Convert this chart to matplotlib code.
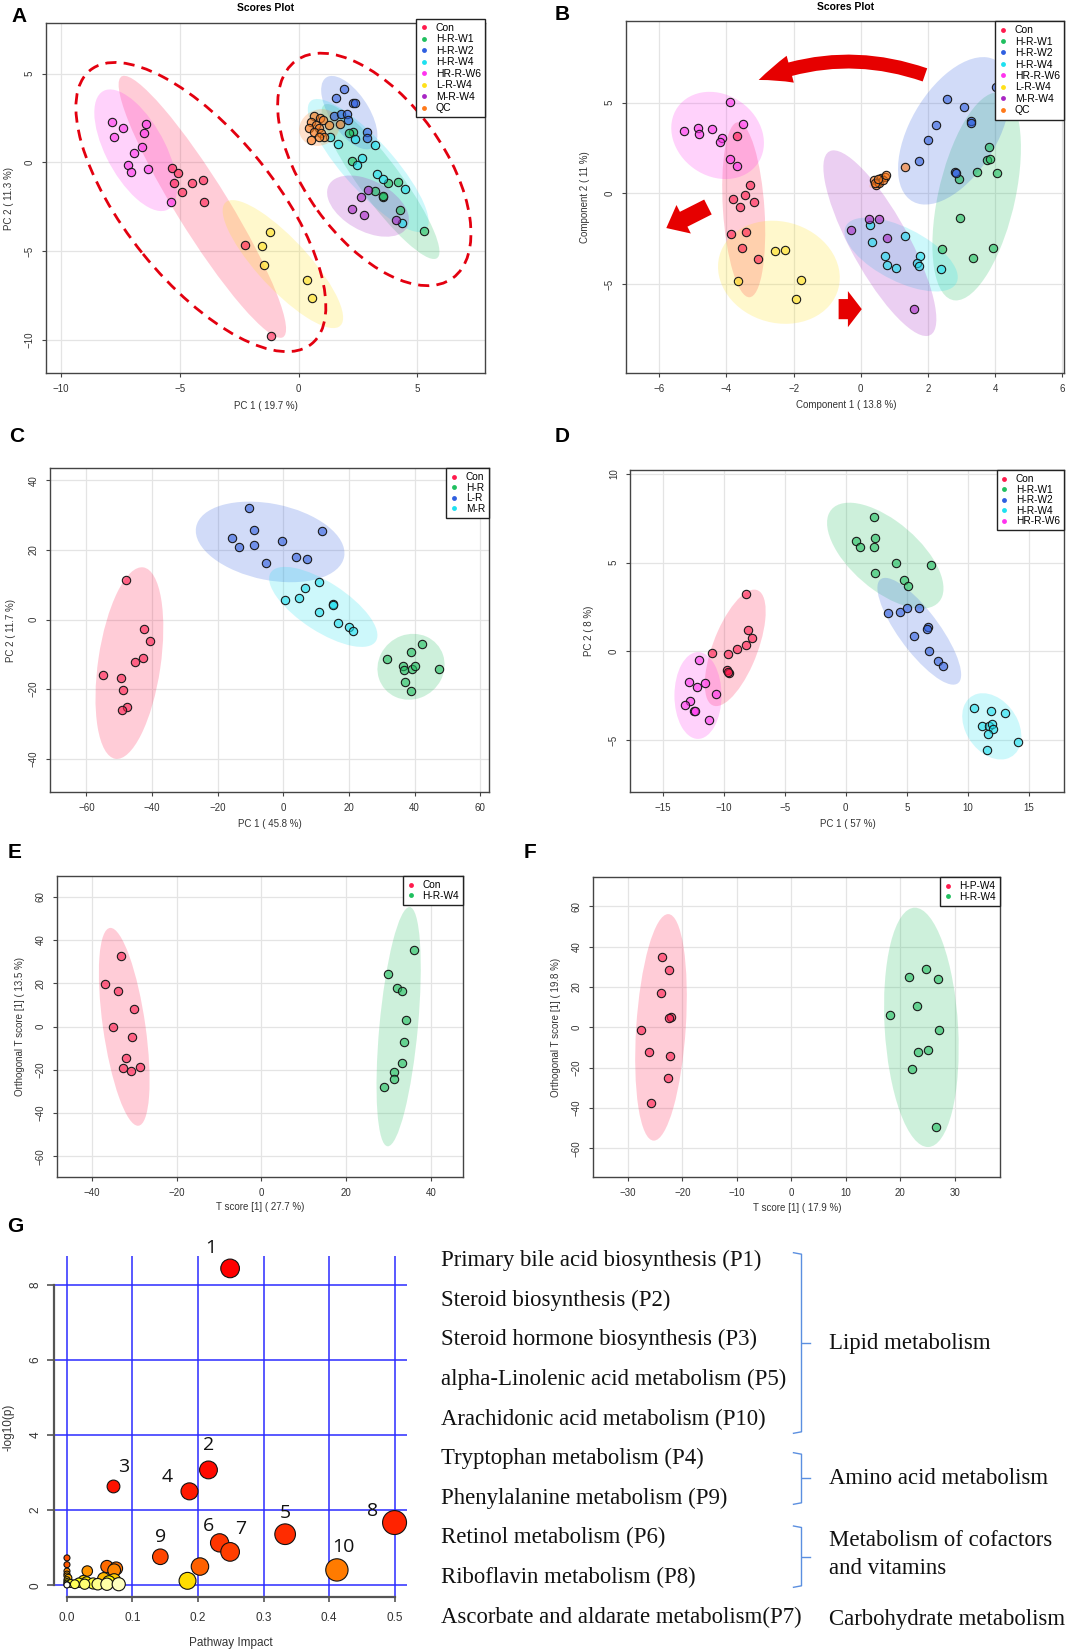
import numpy as np
import matplotlib
matplotlib.use('Agg')
import matplotlib.pyplot as plt
import matplotlib.transforms as mtransforms
from matplotlib.patches import Ellipse, FancyArrowPatch
from matplotlib.lines import Line2D
from matplotlib.colors import to_rgba, hsv_to_rgb

plt.rcParams['font.family'] = ['Liberation Sans', 'DejaVu Sans']

W, H = 1067, 1651

# ---------------- data ----------------
COL = {'red': '#ff1a4d', 'green': '#1fbf5f', 'blue': '#2f5fe0', 'cyan': '#1ee0f0',
       'magenta': '#ff33ee', 'yellow': '#ffe01a', 'purple': '#a826c4', 'orange': '#ff7a1a'}

# panel A  (PC1 / PC2)
A_NAMES = ['Con', 'H-R-W1', 'H-R-W2', 'H-R-W4', 'HR-R-W6', 'L-R-W4', 'M-R-W4', 'QC']
A_CON = [(-5.31, -0.31), (-5.06, -0.59), (-5.26, -1.17), (-4.91, -1.67), (-4.50, -1.15),
         (-4.01, -1.00), (-3.98, -2.24), (-2.24, -4.64), (-1.17, -9.79)]
A_W1 = [(2.31, 1.72), (2.14, 1.63), (2.25, 0.09), (3.75, -1.15), (4.17, -1.09),
        (3.23, -1.62), (3.54, -1.94), (3.56, -1.90), (4.28, -2.69), (5.30, -3.87)]
A_W2 = [(1.90, 4.12), (1.58, 3.63), (2.31, 3.35), (2.36, 3.35), (1.51, 2.62),
        (1.79, 2.71), (2.04, 2.71), (2.10, 2.41), (2.89, 1.72), (2.89, 1.38)]
A_W4 = [(1.34, 1.40), (1.65, 1.06), (2.39, 1.34), (3.20, 0.95), (2.66, 0.24),
        (2.45, -0.17), (3.29, -0.68), (3.54, -0.96), (4.47, -1.53), (4.35, -3.44)]
A_W6 = [(-7.87, 2.26), (-7.37, 1.91), (-7.75, 1.44), (-6.43, 2.17), (-6.49, 1.64),
        (-6.60, 0.88), (-6.92, 0.52), (-7.19, -0.17), (-7.05, -0.55), (-6.35, -0.40), (-5.38, -2.22)]
A_LW4 = [(-1.20, -3.94), (-1.55, -4.71), (-1.47, -5.76), (0.36, -6.62), (0.57, -7.64)]
A_MW4 = [(2.94, -1.56), (2.61, -1.94), (2.24, -2.61), (2.74, -2.97), (4.10, -3.25)]
A_QC = [(0.64, 2.62), (0.91, 2.51), (0.53, 2.28), (1.02, 2.41), (0.74, 2.09), (0.85, 1.91),
        (0.46, 1.91), (0.67, 1.72), (0.95, 1.63), (1.09, 1.44), (0.85, 1.44), (0.53, 1.25),
        (1.30, 2.09), (1.76, 2.15)]

# panel B  (PLS-DA components)
B_CON = [(-3.68, 3.18), (-3.29, 0.46), (-3.80, -0.29), (-3.44, -0.11), (-3.17, -0.48),
         (-3.59, -0.75), (-3.86, -2.26), (-3.42, -2.11), (-3.54, -3.01), (-3.06, -3.64)]
B_W1 = [(3.81, 2.57), (3.77, 1.82), (3.84, 1.88), (3.47, 1.18), (4.05, 1.10),
        (2.91, 0.79), (2.96, -1.36), (2.41, -3.09), (3.94, -3.00), (3.34, -3.55)]
B_W2 = [(2.56, 5.18), (3.06, 4.76), (4.02, 5.85), (2.24, 3.79), (3.29, 4.01),
        (3.29, 3.88), (1.99, 2.94), (1.73, 1.78), (2.81, 1.16), (2.83, 1.12)]
B_W4 = [(0.28, -1.76), (0.32, -2.68), (0.73, -3.44), (0.78, -3.93), (1.05, -4.10),
        (1.31, -2.35), (1.75, -3.46), (1.67, -3.82), (1.73, -3.99), (2.39, -4.19)]
B_W6 = [(-3.88, 5.02), (-5.25, 3.42), (-4.85, 3.60), (-4.81, 3.25), (-4.43, 3.53),
        (-4.14, 3.07), (-4.19, 2.81), (-3.50, 3.81), (-3.88, 1.89), (-3.70, 1.53)]
B_LW4 = [(-2.56, -3.20), (-2.26, -3.13), (-3.65, -4.82), (-1.79, -4.76), (-1.93, -5.83)]
B_MW4 = [(0.24, -1.42), (0.55, -1.42), (-0.29, -2.01), (0.77, -2.48), (1.57, -6.40)]
B_QC = [(0.40, 0.74), (0.50, 0.64), (0.61, 0.83), (0.71, 0.92), (0.45, 0.46), (0.55, 0.55),
        (0.66, 0.74), (0.76, 1.01), (0.42, 0.55), (0.52, 0.77)]
B_QC_EXTRA = [(1.33, 1.47)]

# panel C
C_NAMES = ['Con', 'H-R', 'L-R', 'M-R']
C_CON = [(-47.9, 11.3), (-42.5, -2.7), (-40.5, -6.3), (-42.9, -11.1), (-45.2, -12.1),
         (-54.9, -15.8), (-49.5, -16.8), (-49.0, -20.3), (-47.5, -25.2), (-49.1, -26.0)]
C_HR = [(31.5, -11.4), (39.0, -9.3), (42.3, -7.1), (36.4, -13.2), (36.8, -14.6),
        (39.3, -14.1), (40.2, -13.2), (47.6, -14.2), (37.2, -18.0), (39.0, -20.5)]
C_LR = [(-10.6, 32.0), (-8.9, 25.7), (-15.5, 23.5), (-13.6, 20.8), (-8.8, 21.5),
        (-0.4, 22.6), (11.8, 25.3), (4.0, 18.0), (7.3, 17.3), (-5.4, 16.1)]
C_MR = [(10.9, 10.9), (6.6, 9.1), (0.4, 5.5), (4.8, 6.1), (10.9, 2.2),
        (15.1, 4.6), (15.3, 4.3), (16.7, -1.0), (19.9, -2.1), (21.3, -3.3)]

# panel D
D_NAMES = ['Con', 'H-R-W1', 'H-R-W2', 'H-R-W4', 'HR-R-W6']
D_CON = [(-8.19, 3.23), (-8.02, 1.22), (-7.73, 0.74), (-8.22, 0.34), (-8.91, 0.14),
         (-9.68, -0.14), (-10.95, -0.09), (-9.74, -1.06), (-9.57, -1.21), (-9.66, -1.14)]
D_W1 = [(2.30, 7.58), (0.80, 6.21), (1.15, 5.87), (2.39, 6.40), (2.33, 5.89),
        (4.11, 4.96), (7.01, 4.88), (2.41, 4.39), (4.80, 4.01), (5.09, 3.66)]
D_W2 = [(3.48, 2.15), (4.48, 2.22), (5.00, 2.42), (5.98, 2.42), (6.72, 1.36),
        (6.64, 1.26), (5.63, 0.87), (6.84, 0.01), (7.53, -0.54), (7.99, -0.82)]
D_W4 = [(10.49, -3.18), (11.93, -3.35), (13.02, -3.48), (11.18, -4.17), (11.72, -4.17),
        (12.01, -4.06), (12.10, -4.36), (11.67, -4.66), (14.11, -5.11), (11.55, -5.56)]
D_W6 = [(-12.04, -0.50), (-12.87, -1.74), (-12.18, -2.00), (-11.55, -1.78), (-10.66, -2.41),
        (-12.76, -2.80), (-13.22, -2.99), (-12.41, -3.33), (-12.33, -3.35), (-11.21, -3.86)]

# panel E (OPLS-DA)
E_NAMES = ['Con', 'H-R-W4']
E_CON = [(-33.1, 32.5), (-36.9, 19.7), (-33.8, 16.4), (-30.2, 7.9), (-35.1, -0.3),
         (-30.7, -4.8), (-32.0, -14.7), (-32.8, -19.0), (-30.9, -20.4), (-28.7, -18.8)]
E_W4 = [(36.1, 35.5), (30.0, 24.1), (32.0, 17.6), (33.3, 16.5), (34.2, 3.1),
        (33.7, -7.1), (33.3, -17.1), (31.2, -21.0), (31.3, -24.2), (28.9, -28.2)]

# panel F (OPLS-DA)
F_NAMES = ['H-P-W4', 'H-R-W4']
F_HP = [(-23.7, 34.9), (-22.5, 28.6), (-24.0, 16.9), (-22.0, 4.9), (-22.5, 4.4),
        (-27.6, -1.4), (-26.1, -12.1), (-22.3, -14.1), (-22.7, -25.0), (-25.8, -37.4)]
F_HR = [(24.8, 28.8), (21.6, 25.0), (26.9, 23.7), (23.1, 10.5), (18.2, 5.9),
        (27.1, -1.1), (25.0, -11.1), (23.3, -12.1), (22.1, -20.6), (26.6, -49.3)]

# panel G (pathway analysis)
G_IMPACT = [0.249, 0.216, 0.071, 0.187, 0.333, 0.233, 0.249, 0.500, 0.1425, 0.412, 0.203, 0.184,
            0.000, 0.000, 0.000, 0.000, 0.000, 0.002, 0.000, 0.000, 0.000, 0.000, 0.000,
            0.031, 0.061, 0.075, 0.072, 0.056, 0.072, 0.025, 0.030, 0.064,
            0.012, 0.027, 0.047, 0.061, 0.079, 0.006, 0.018, 0.040]
G_LOGP = [8.43, 3.07, 2.63, 2.50, 1.36, 1.13, 0.89, 1.67, 0.76, 0.41, 0.50, 0.12,
          0.73, 0.55, 0.38, 0.30, 0.25, 0.20, 0.15, 0.10, 0.06, 0.02, 0.01,
          0.38, 0.50, 0.45, 0.40, 0.18, 0.14, 0.13, 0.09, 0.09,
          0.03, 0.03, 0.03, 0.03, 0.03, 0.05, 0.07, 0.05]
G_LABELS = ['1', '2', '3', '4', '5', '6', '7', '8', '9', '10']
G_PATHWAYS = ['Primary bile acid biosynthesis (P1)', 'Steroid biosynthesis (P2)',
              'Steroid hormone biosynthesis (P3)', 'alpha-Linolenic acid metabolism (P5)',
              'Arachidonic acid metabolism (P10)', 'Tryptophan metabolism (P4)',
              'Phenylalanine metabolism (P9)', 'Retinol metabolism (P6)',
              'Riboflavin metabolism (P8)', 'Ascorbate and aldarate metabolism(P7)']

fig = plt.figure(figsize=(W / 100, H / 100), dpi=100)
ov = fig.add_axes([0, 0, 1, 1])
ov.set_xlim(0, W)
ov.set_ylim(H, 0)
ov.axis('off')


def px_axes(l, t, r, b):
    return fig.add_axes([l / W, 1 - b / H, (r - l) / W, (b - t) / H])


def ptext(x, y, s, **kw):
    kw.setdefault('ha', 'center')
    kw.setdefault('va', 'center')
    ov.text(x, y, s, **kw)


def style_scores(ax, xlim, ylim, xticks, yticks):
    ax.set_xlim(*xlim)
    ax.set_ylim(*ylim)
    ax.set_xticks(xticks)
    ax.set_yticks(yticks)
    ax.grid(True, color='#e4e4e4', lw=0.9)
    ax.set_axisbelow(True)
    for s in ax.spines.values():
        s.set_color('#444444')
        s.set_linewidth(1.0)
    ax.tick_params(direction='out', length=3, width=0.8, color='#444444',
                   labelsize=7, labelcolor='#333333', pad=5)
    for lab in ax.get_yticklabels():
        lab.set_rotation(90)
        lab.set_va('center')


def add_group(ax, pts, color, ellipse=True):
    pts = np.array(pts)
    if ellipse and len(pts) > 2:
        cov = np.cov(pts[:, 0], pts[:, 1])
        vals, vecs = np.linalg.eigh(cov)
        order = vals.argsort()[::-1]
        vals, vecs = vals[order], vecs[:, order]
        ang = np.degrees(np.arctan2(vecs[1, 0], vecs[0, 0]))
        k = np.sqrt(5.991)
        ax.add_patch(Ellipse(pts.mean(axis=0), 2 * k * np.sqrt(vals[0]), 2 * k * np.sqrt(vals[1]),
                             angle=ang, fc=to_rgba(color, 0.22), ec='none', zorder=1))
    return pts


def add_points(ax, pts, color):
    ax.scatter(pts[:, 0], pts[:, 1], s=36, fc=to_rgba(color, 0.6), ec='#1a1a1a',
               linewidths=0.8, zorder=3)


def add_legend(ax, names, colors, fs, y=1.0, spacing=0.05):
    handles = [Line2D([], [], ls='', marker='o', ms=3.5, mfc=c, mec=c, mew=0) for c in colors]
    leg = ax.legend(handles, names, loc='upper right', bbox_to_anchor=(1.0, y), borderaxespad=0,
                    fontsize=fs, frameon=True, fancybox=False, edgecolor='#222222', framealpha=1,
                    handlelength=0.7, handletextpad=0.8, labelspacing=spacing, borderpad=0.4)
    leg.get_frame().set_linewidth(1.0)
    leg.set_zorder(5)


def scores_panel(ax, groups, names, colors, fs, y=1.0, spacing=0.05):
    arrs = [add_group(ax, g, c) for g, c in zip(groups, colors)]
    for a, c in zip(arrs, colors):
        add_points(ax, a, c)
    add_legend(ax, names, colors, fs, y, spacing)


A_COLORS = [COL['red'], COL['green'], COL['blue'], COL['cyan'], COL['magenta'],
            COL['yellow'], COL['purple'], COL['orange']]

# ---------------- A ----------------
axA = px_axes(46, 23, 485, 373)
style_scores(axA, (-10.63, 7.85), (-11.87, 7.85), [-10, -5, 0, 5], [-10, -5, 0, 5])
scores_panel(axA, [A_CON, A_W1, A_W2, A_W4, A_W6, A_LW4, A_MW4, A_QC], A_NAMES, A_COLORS,
             7.5, 1.012, 0.14)
# dashed outlines grouping the two clusters (size given in inches, centred on data points)
for (cx, cy), (w, h, ang) in zip([(-4.11, -2.52), (3.19, -0.40)],
                                 [(3.52, 1.49, -51), (2.68, 1.40, -54.3)]):
    tr = fig.dpi_scale_trans + mtransforms.ScaledTranslation(cx, cy, axA.transData)
    axA.add_patch(Ellipse((0, 0), w, h, angle=ang, transform=tr, fill=False,
                          ec='#e3000f', lw=2.0, ls=(0, (4, 2.6)), zorder=4))

# ---------------- B ----------------
axB = px_axes(626, 21, 1064, 373)
style_scores(axB, (-6.99, 6.05), (-9.9, 9.5), [-6, -4, -2, 0, 2, 4, 6], [-5, 0, 5])
b_groups = [B_CON, B_W1, B_W2, B_W4, B_W6, B_LW4, B_MW4, B_QC]
b_arrs = [add_group(axB, g, c) for g, c in zip(b_groups, A_COLORS)]
b_arrs[-1] = np.vstack([b_arrs[-1], np.array(B_QC_EXTRA)])
for a, c in zip(b_arrs, A_COLORS):
    add_points(axB, a, c)
add_legend(axB, A_NAMES, A_COLORS, 7.5, 1.0, 0.14)
axB.add_patch(FancyArrowPatch((1.91, 6.53), (-3.04, 6.25), connectionstyle='arc3,rad=0.19',
                              arrowstyle='simple,head_length=2.4,head_width=2.0,tail_width=1.0',
                              mutation_scale=10, fc='#e60000', ec='none', zorder=4,
                              shrinkA=0, shrinkB=0))
axB.add_patch(FancyArrowPatch((-4.55, -0.75), (-5.79, -1.91),
                              arrowstyle='simple,head_length=1.4,head_width=2.3,tail_width=1.2',
                              mutation_scale=10, fc='#e60000', ec='none', zorder=4,
                              shrinkA=0, shrinkB=0))
axB.add_patch(FancyArrowPatch((-0.66, -6.38), (0.03, -6.38),
                              arrowstyle='simple,head_length=1.0,head_width=2.6,tail_width=1.45',
                              mutation_scale=10, fc='#e60000', ec='none', zorder=4,
                              shrinkA=0, shrinkB=0))

# ---------------- C ----------------
axC = px_axes(50, 468, 489, 792)
style_scores(axC, (-71.1, 62.7), (-49.5, 43.5), [-60, -40, -20, 0, 20, 40, 60], [-40, -20, 0, 20, 40])
scores_panel(axC, [C_CON, C_HR, C_LR, C_MR], C_NAMES,
             [COL['red'], COL['green'], COL['blue'], COL['cyan']], 7.3)

# ---------------- D ----------------
axD = px_axes(630, 470, 1064, 792)
style_scores(axD, (-17.7, 17.9), (-7.9, 10.2), [-15, -10, -5, 0, 5, 10, 15], [-5, 0, 5, 10])
scores_panel(axD, [D_CON, D_W1, D_W2, D_W4, D_W6], D_NAMES,
             [COL['red'], COL['green'], COL['blue'], COL['cyan'], COL['magenta']], 7.3)

# ---------------- E ----------------
axE = px_axes(57, 876, 463, 1177)
style_scores(axE, (-48.3, 47.6), (-69.6, 69.6), [-40, -20, 0, 20, 40], [-60, -40, -20, 0, 20, 40, 60])
scores_panel(axE, [E_CON, E_W4], E_NAMES, [COL['red'], COL['green']], 7.3)

# ---------------- F ----------------
axF = px_axes(593, 877, 1000, 1177)
style_scores(axF, (-36.4, 38.3), (-74.2, 74.5), [-30, -20, -10, 0, 10, 20, 30],
             [-60, -40, -20, 0, 20, 40, 60])
scores_panel(axF, [F_HP, F_HR], F_NAMES, [COL['red'], COL['green']], 7.3)

# axis titles / labels of the score plots
lab = dict(fontsize=7, color='#333333')
ptext(266, 8, 'Scores Plot', fontsize=7.5, fontweight='bold')
ptext(846, 7, 'Scores Plot', fontsize=7.5, fontweight='bold')
ptext(266, 406, 'PC 1 ( 19.7 %)', **lab)
ptext(9, 198, 'PC 2 ( 11.3 %)', rotation=90, **lab)
ptext(846, 405, 'Component 1 ( 13.8 %)', **lab)
ptext(585, 197, 'Component 2 ( 11 %)', rotation=90, **lab)
ptext(270, 824, 'PC 1 ( 45.8 %)', **lab)
ptext(11, 630, 'PC 2 ( 11.7 %)', rotation=90, **lab)
ptext(848, 824, 'PC 1 ( 57 %)', **lab)
ptext(589, 631, 'PC 2 ( 8 %)', rotation=90, **lab)
ptext(260, 1207, 'T score [1] ( 27.7 %)', **lab)
ptext(20, 1026, 'Orthogonal T score [1] ( 13.5 %)', rotation=90, **lab)
ptext(797, 1208, 'T score [1] ( 17.9 %)', **lab)
ptext(556, 1027, 'Orthogonal T score [1] ( 19.8 %)', rotation=90, **lab)

# ---------------- G ----------------
axG = px_axes(54, 1256, 407, 1597)
axG.set_xlim(-0.0198, 0.519)
axG.set_ylim(-0.31, 8.76)
axG.set_xticks([0, 0.1, 0.2, 0.3, 0.4, 0.5])
axG.set_xticklabels(['0.0', '0.1', '0.2', '0.3', '0.4', '0.5'])
axG.set_yticks([0, 2, 4, 6, 8])
axG.grid(True, color='#2b2bff', lw=1.1)
axG.set_axisbelow(True)
for side in ['top', 'right']:
    axG.spines[side].set_visible(False)
axG.spines['left'].set_bounds(0, 8)
axG.spines['bottom'].set_bounds(0, 0.5)
for side in ['left', 'bottom']:
    axG.spines[side].set_color('#555555')
    axG.spines[side].set_linewidth(1.6)
axG.tick_params(axis='x', direction='out', length=3.5, width=1.2, color='#555555',
                labelsize=8.5, labelcolor='#333333', pad=7)
axG.tick_params(axis='y', direction='out', length=5, width=1.2, color='#555555',
                labelsize=8.5, labelcolor='#333333', pad=4)
for t in axG.get_yticklabels():
    t.set_rotation(90)
    t.set_va('center')


def heat_colors(n):
    j = n // 4
    i = n - j
    cols = [hsv_to_rgb((h, 1, 1)) for h in np.linspace(0, 1 / 6, i)]
    if j > 0:
        cols += [hsv_to_rgb((1 / 6, s, 1)) for s in np.linspace(1 - 1 / (2 * j), 1 / (2 * j), j)]
    return cols


imp = np.array(G_IMPACT)
lp = np.array(G_LOGP)
order = np.argsort(-lp, kind='stable')
hc = heat_colors(len(lp))
radius = 3 + 12.7 * np.sqrt(imp[order])
axG.scatter(imp[order], lp[order], s=(2 * radius * 0.72) ** 2, c=[hc[k] for k in range(len(lp))],
            edgecolors='#111111', linewidths=0.8, zorder=3, clip_on=False)

lab_off = [(-14, 14.6), (0, 18), (7, 14), (-16, 10.5), (0, 15.3), (-8, 12),
           (7.5, 16.8), (-16, 8.6), (0, 14.4), (5, 16.3)]
for i, s in enumerate(G_LABELS):
    axG.annotate(s, (G_IMPACT[i], G_LOGP[i]), xytext=lab_off[i], textcoords='offset points',
                 ha='center', va='center', fontsize=14, family=['Open Sans', 'DejaVu Sans'],
                 color='#111111', annotation_clip=False, zorder=5)

ptext(231, 1643, 'Pathway Impact', fontsize=8.5, color='#333333')
ptext(9, 1427, '-log10(p)', rotation=90, fontsize=8.5, color='#333333')

serif = ['Liberation Serif', 'DejaVu Serif']
for i, s in enumerate(G_PATHWAYS):
    ptext(440.6, 1260.7 + i * 39.6, s, ha='left', fontsize=16.4, family=serif, color='#111111')
for y, s in [(1344, 'Lipid metabolism'), (1478, 'Amino acid metabolism'),
             (1541, 'Metabolism of cofactors'), (1568, 'and vitamins'),
             (1620, 'Carbohydrate metabolism')]:
    ptext(828.8, y, s, ha='left', fontsize=16.4, family=serif, color='#111111')

for top, bot in [(1252.7, 1433.3), (1452.7, 1504.3), (1526, 1587.3)]:
    mid = (top + bot) / 2
    ov.plot([793.5, 801.5, 801.5, 793.5], [top, top + 1.5, bot - 1.5, bot], color='#5b8fe0', lw=1.0)
    ov.plot([801.5, 810], [mid, mid], color='#5b8fe0', lw=1.0)

# panel letters
for x, y, s in [(19, 16, 'A'), (562, 15, 'B'), (17, 436, 'C'), (562, 436, 'D'),
                (15, 853, 'E'), (530, 853, 'F'), (15, 1227, 'G')]:
    ptext(x, y, s, fontsize=15, fontweight='bold', color='black')

fig.savefig('out.png', dpi=100)
